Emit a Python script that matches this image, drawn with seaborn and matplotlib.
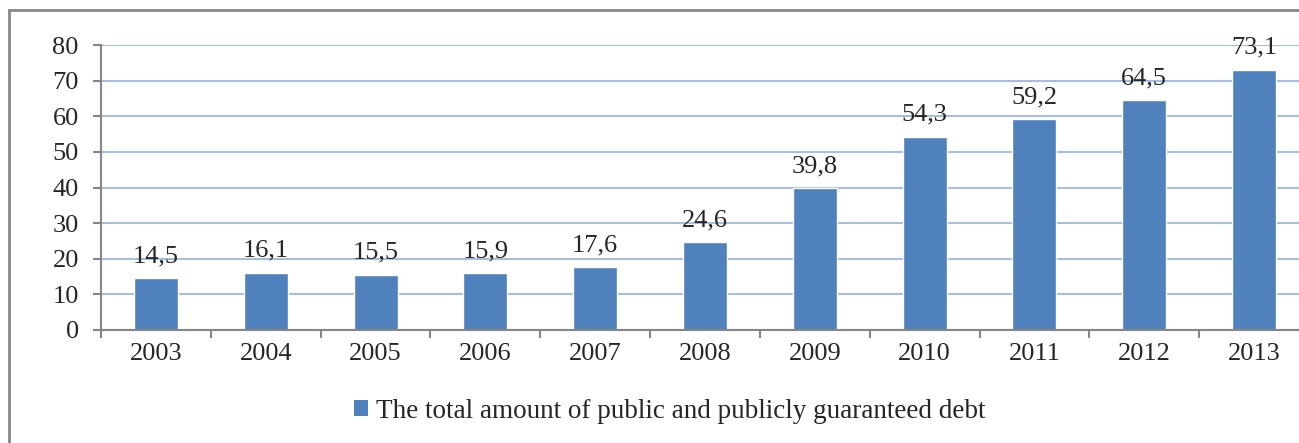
import pandas as pd
import seaborn as sns
import matplotlib.pyplot as plt
from matplotlib.patches import Rectangle, Patch
from matplotlib.ticker import FixedLocator

years = ['2003', '2004', '2005', '2006', '2007', '2008', '2009', '2010', '2011', '2012', '2013']
debt = [14.5, 16.1, 15.5, 15.9, 17.6, 24.6, 39.8, 54.3, 59.2, 64.5, 73.1]
series_name = 'The total amount of public and publicly guaranteed debt'

df = pd.DataFrame({'year': years, 'debt': debt})

sns.set_theme(style='white')
plt.rcParams['font.family'] = ['Liberation Serif', 'DejaVu Serif']

bar_color = '#4F81BD'
axis_gray = '#868686'

fig = plt.figure(figsize=(12.99, 4.43), dpi=100)
ax = fig.add_axes([101 / 1299, 113 / 443, 1208 / 1299, 285 / 443])

sns.barplot(data=df, x='year', y='debt', color=bar_color, saturation=1, width=0.4, ax=ax)

# value labels with decimal comma
ax.bar_label(ax.containers[0], labels=[f'{v:.1f}'.replace('.', ',') for v in debt],
             padding=8, fontsize=19)

ax.set_xlim(-0.5, len(years) - 0.5)
ax.set_ylim(0, 80)
ax.set_yticks(range(0, 81, 10))
ax.yaxis.grid(True, color='#A7BEE0', linewidth=1.5)
ax.set_axisbelow(True)
ax.set_xlabel('')
ax.set_ylabel('')

for s in ['top', 'right']:
    ax.spines[s].set_visible(False)
for s in ['left', 'bottom']:
    ax.spines[s].set_color(axis_gray)
    ax.spines[s].set_linewidth(1.5)

ax.xaxis.set_minor_locator(FixedLocator([i - 0.5 for i in range(len(years) + 1)]))
ax.tick_params(axis='x', which='major', length=0, pad=9, labelsize=19)
ax.tick_params(axis='x', which='minor', length=6, width=1.5, color=axis_gray, direction='out', bottom=True)
ax.tick_params(axis='y', length=6, width=1.5, color=axis_gray, direction='out', left=True, pad=10, labelsize=19)

# legend
handle = Patch(facecolor=bar_color, edgecolor='none')
fig.legend([handle], [series_name], loc='center', bbox_to_anchor=(670 / 1299, 1 - 411 / 443),
           frameon=False, fontsize=19.5, handlelength=0.5, handleheight=0.5, handletextpad=0.3)

# chart area border
fig.patches.append(Rectangle((9 / 1299, -0.2), 1.2, 1.2 - 10 / 443, transform=fig.transFigure,
                             fill=False, edgecolor=axis_gray, linewidth=2))

fig.savefig('out.png', dpi=100)
